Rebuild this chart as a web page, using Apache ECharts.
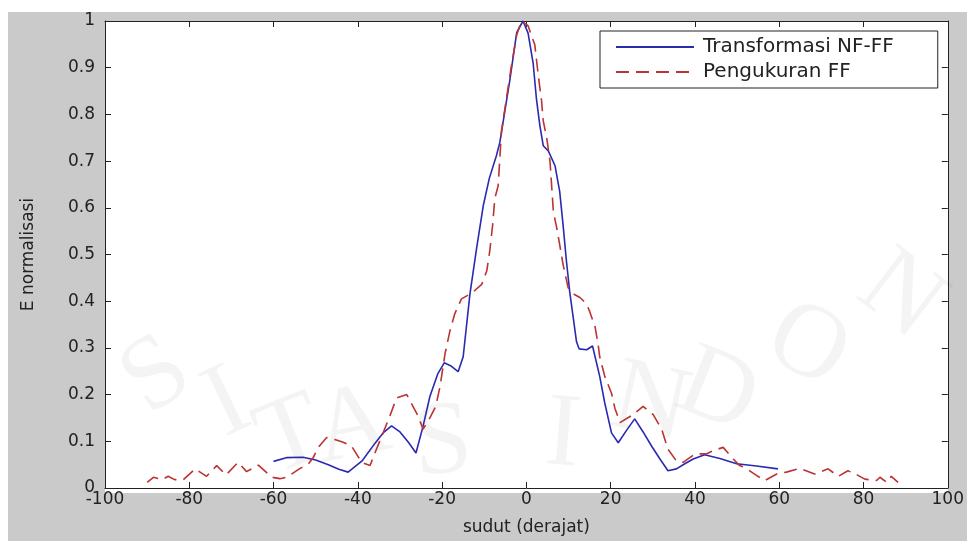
<!DOCTYPE html>
<html>
<head>
<meta charset="utf-8">
<script src="https://cdn.jsdelivr.net/npm/echarts@6/dist/echarts.min.js"></script>
<style>
  html, body { margin: 0; padding: 0; background: #fff; }
  #chart { width: 967px; height: 541px; }
</style>
</head>
<body>
<div id="chart"></div>
<script>
// sudut (derajat) vs E normalisasi
const nfffAngle = [-60, -57, -53, -50, -47, -44.5, -42.3, -39, -36, -34, -32, -30, -28, -26.2, -24.5, -22.9, -21, -19.5, -18, -16.2,
  -15, -13.4, -11.8, -10.2, -8.8, -7.1, -6.3, -3.9, -2.3, -0.8, 0.4, 1.6, 2.4, 3.2, 4, 5.2, 6.8, 7.9, 8.7, 9.5,
  10.3, 11.1, 11.9, 12.5, 14.3, 15.7, 17.4, 18.6, 20.2, 21.8, 23.8, 25.7, 27.7, 29.7, 31.7, 33.6, 35.6, 37.6, 39.6, 42.3,
  45.9, 49.9, 54.6, 59.7]
const nfffValue = [0.057, 0.065, 0.066, 0.060, 0.050, 0.040, 0.034, 0.058, 0.095, 0.118, 0.133, 0.120, 0.098, 0.075, 0.133, 0.196, 0.245, 0.268, 0.262, 0.249,
  0.281, 0.415, 0.514, 0.606, 0.663, 0.712, 0.740, 0.875, 0.975, 1.0, 0.974, 0.910, 0.832, 0.776, 0.733, 0.722, 0.690, 0.635, 0.564, 0.486,
  0.419, 0.366, 0.313, 0.298, 0.296, 0.304, 0.239, 0.182, 0.118, 0.097, 0.124, 0.148, 0.120, 0.090, 0.062, 0.037, 0.041, 0.052, 0.062, 0.071,
  0.063, 0.052, 0.047, 0.041]

const ffAngle = [-90, -88.5, -86.5, -85, -83.5, -81.4, -78.6, -75.9, -73.5, -71.3, -68.4, -66.4, -63.6, -60.4, -58.5, -56.9, -53.7, -51.8, -50.6, -49.4,
  -47.4, -45.5, -43.8, -41.5, -39.1, -37.1, -35.9, -34, -32.4, -30.8, -28.4, -25.7, -24.5, -22.9, -21.5, -20.5, -19.3, -18.1, -17, -15.4,
  -13, -10.6, -9.4, -8.7, -8, -7.5, -6.7, -5.9, -4.7, -3.5, -2.3, -1.2, 0.4, 2, 2.8, 3.6, 4, 4.8, 5.6, 6.4,
  7.2, 7.9, 8.7, 9.9, 11.3, 12.7, 14.3, 15.1, 16.3, 17, 17.4, 18.6, 20.2, 21, 22.2, 25.3, 27.7, 30.1, 32.1, 33.6,
  35.6, 37.2, 40, 42.7, 44.3, 46.7, 49.1, 50.6, 51.8, 54.6, 56.6, 59.4, 61.7, 64.9, 68.4, 71.6, 74, 76.3, 78.7, 80.3,
  83.1, 83.9, 85.5, 86.6, 88.2]
const ffValue = [0.012, 0.023, 0.018, 0.025, 0.018, 0.018, 0.041, 0.025, 0.048, 0.028, 0.055, 0.035, 0.049, 0.023, 0.020, 0.023, 0.042, 0.051, 0.065, 0.087,
  0.108, 0.104, 0.099, 0.090, 0.055, 0.048, 0.076, 0.118, 0.154, 0.193, 0.200, 0.154, 0.126, 0.150, 0.175, 0.217, 0.288, 0.338, 0.373, 0.405,
  0.417, 0.436, 0.465, 0.507, 0.564, 0.620, 0.647, 0.765, 0.836, 0.907, 0.970, 1.0, 0.990, 0.949, 0.885, 0.829, 0.786, 0.751, 0.700, 0.592,
  0.557, 0.521, 0.479, 0.429, 0.415, 0.408, 0.394, 0.376, 0.345, 0.309, 0.281, 0.239, 0.203, 0.171, 0.140, 0.157, 0.175, 0.157, 0.126, 0.083,
  0.058, 0.055, 0.073, 0.073, 0.080, 0.087, 0.062, 0.048, 0.044, 0.027, 0.016, 0.030, 0.034, 0.042, 0.030, 0.041, 0.025, 0.037, 0.027, 0.019,
  0.016, 0.023, 0.012, 0.025, 0.012]

const seriesNames = ['Transformasi NF-FF', 'Pengukuran FF']
const xTicks = [-100, 100, 20]   // min, max, step
const yTicks = [0, 1, 0.1]

// watermark letters (background stamp of the scanned page)
const stamp = ['S', 'I', 'T', 'A', 'S', 'I', 'N', 'D', 'O', 'N']

;(function () {
  const myChart = echarts.init(document.getElementById('chart'))
  const font = '"DejaVu Sans", sans-serif'
  const ink = '#222'

  const pair = (xs, ys) => xs.map((x, i) => [x, ys[i]])

  const stampPos = [[157, 377, 0.6], [228, 405, 0.45], [292, 438, 0.38], [352, 428, 0.2], [443, 445, 0.08],
    [563, 437, -0.08], [650, 405, -0.22], [717, 393, -0.38], [807, 347, -0.5], [900, 297, -0.65]]

  const axisCommon = {
    type: 'value',
    axisLine: { show: true, onZero: false, lineStyle: { color: ink, width: 1 } },
    axisTick: { show: true, inside: true, length: 6, lineStyle: { color: ink } },
    splitLine: { show: false }
  }

  const option = {
    backgroundColor: '#fff',
    animation: false,
    graphic: [
      { type: 'rect', z: -10, shape: { x: 8, y: 12, width: 970, height: 540 }, style: { fill: '#cacaca' } },
      { type: 'rect', z: -9, shape: { x: 105, y: 21, width: 843, height: 472 }, style: { fill: '#fff' } }
    ].concat(stamp.map((ch, i) => ({
      type: 'text', z: -8, x: stampPos[i][0], y: stampPos[i][1], rotation: stampPos[i][2],
      style: { text: ch, font: '105px "Liberation Serif", serif', fill: 'rgba(0,0,0,0.045)', align: 'center', verticalAlign: 'middle' }
    }))),
    legend: {
      orient: 'vertical',
      left: 600,
      top: 31,
      data: seriesNames,
      backgroundColor: '#fff',
      borderColor: ink,
      borderWidth: 1,
      borderRadius: 0,
      padding: [6, 44, 6, 15],
      itemWidth: 78,
      itemHeight: 14,
      itemGap: 5,
      itemStyle: { opacity: 0 },
      textStyle: { fontFamily: font, fontSize: 20, color: ink, padding: [0, 0, 0, 4] }
    },
    grid: { left: 105, right: 19, top: 21, bottom: 48.5 },
    xAxis: [
      Object.assign({}, axisCommon, {
        min: xTicks[0], max: xTicks[1], interval: xTicks[2], position: 'bottom',
        name: 'sudut (derajat)', nameLocation: 'middle', nameGap: 31,
        nameTextStyle: { fontFamily: font, fontSize: 17, color: ink },
        axisLabel: { fontFamily: font, fontSize: 17, color: ink, margin: 3 }
      }),
      Object.assign({}, axisCommon, {
        min: xTicks[0], max: xTicks[1], interval: xTicks[2], position: 'top', axisLabel: { show: false }
      })
    ],
    yAxis: [
      Object.assign({}, axisCommon, {
        min: yTicks[0], max: yTicks[1], interval: yTicks[2], position: 'left',
        name: 'E normalisasi', nameLocation: 'middle', nameGap: 68, nameRotate: 90,
        nameTextStyle: { fontFamily: font, fontSize: 17, color: ink },
        axisLabel: { fontFamily: font, fontSize: 17, color: ink, margin: 10 }
      }),
      Object.assign({}, axisCommon, {
        min: yTicks[0], max: yTicks[1], interval: yTicks[2], position: 'right', axisLabel: { show: false }
      })
    ],
    series: [
      {
        name: seriesNames[0],
        type: 'line',
        data: pair(nfffAngle, nfffValue),
        showSymbol: false,
        symbol: 'none',
        lineStyle: { color: '#2a2ab0', width: 1.6 },
        itemStyle: { color: '#2a2ab0' }
      },
      {
        name: seriesNames[1],
        type: 'line',
        data: pair(ffAngle, ffValue),
        showSymbol: false,
        symbol: 'none',
        lineStyle: { color: '#bb3333', width: 1.6, type: [13, 7] },
        itemStyle: { color: '#bb3333' }
      }
    ]
  }

  myChart.setOption(option)
  window.addEventListener('resize', function () {
    myChart.resize()
  })
})()
</script>
</body>
</html>
